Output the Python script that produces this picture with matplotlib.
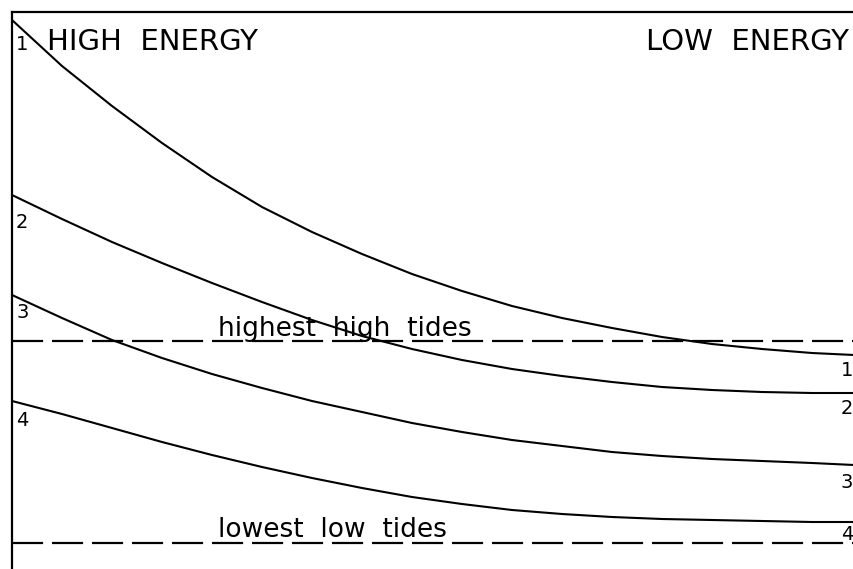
import numpy as np
import matplotlib.pyplot as plt

# Distance along the beach (left = high energy) and elevation of each profile
distance = [0, 50, 100, 150, 200, 250, 300, 350, 400, 450, 500, 550, 600, 650, 700, 750, 800, 842]
profile_1 = [549, 503, 463, 426, 392, 362, 337, 315, 295, 278, 263, 251, 241, 232, 225, 220, 216, 214]
profile_2 = [374, 350, 327, 306, 286, 267, 249, 233, 220, 209, 200, 193, 187, 182, 179, 177, 176, 176]
profile_3 = [274, 251, 229, 211, 195, 181, 168, 157, 146, 137, 129, 123, 117, 113, 110, 108, 106, 104]
profile_4 = [168, 155, 141, 127, 114, 102, 91, 81, 72, 65, 59, 55, 52, 50, 49, 48, 47, 47]
profiles = [profile_1, profile_2, profile_3, profile_4]
labels = ['1', '2', '3', '4']

highest_high_tide = 228
lowest_low_tide = 26

fig = plt.figure(figsize=(8.54, 5.69), dpi=100)
ax = fig.add_axes([12 / 854, 0, 842 / 854, 557 / 569])
ax.set_xlim(0, 842)
ax.set_ylim(0, 557)

# Frame: only left and top lines
for side in ['right', 'bottom']:
    ax.spines[side].set_visible(False)
for side in ['left', 'top']:
    ax.spines[side].set_linewidth(1.6)
ax.set_xticks([])
ax.set_yticks([])

x = np.asarray(distance)
for prof in profiles:
    ax.plot(x, prof, color='black', lw=1.5, solid_joinstyle='round')

# Tide levels
for level in [highest_high_tide, lowest_low_tide]:
    ax.axhline(level, color='black', lw=1.6, dashes=(14, 4))

ax.text(206, highest_high_tide + 5, 'highest  high  tides', fontsize=19, va='baseline', ha='left')
ax.text(206, lowest_low_tide + 6, 'lowest  low  tides', fontsize=19, va='baseline', ha='left')

ax.text(35, 527, 'HIGH  ENERGY', fontsize=21, va='center', ha='left')
ax.text(837, 527, 'LOW  ENERGY', fontsize=21, va='center', ha='right')

# Profile numbers at both ends
left_y = [524, 347, 257, 149]
right_y = [199, 161, 87, 34]
for lab, ly, ry in zip(labels, left_y, right_y):
    ax.text(4, ly, lab, fontsize=14, va='center', ha='left')
    ax.text(841, ry, lab, fontsize=14, va='center', ha='right')

fig.savefig('out.png', dpi=100)
